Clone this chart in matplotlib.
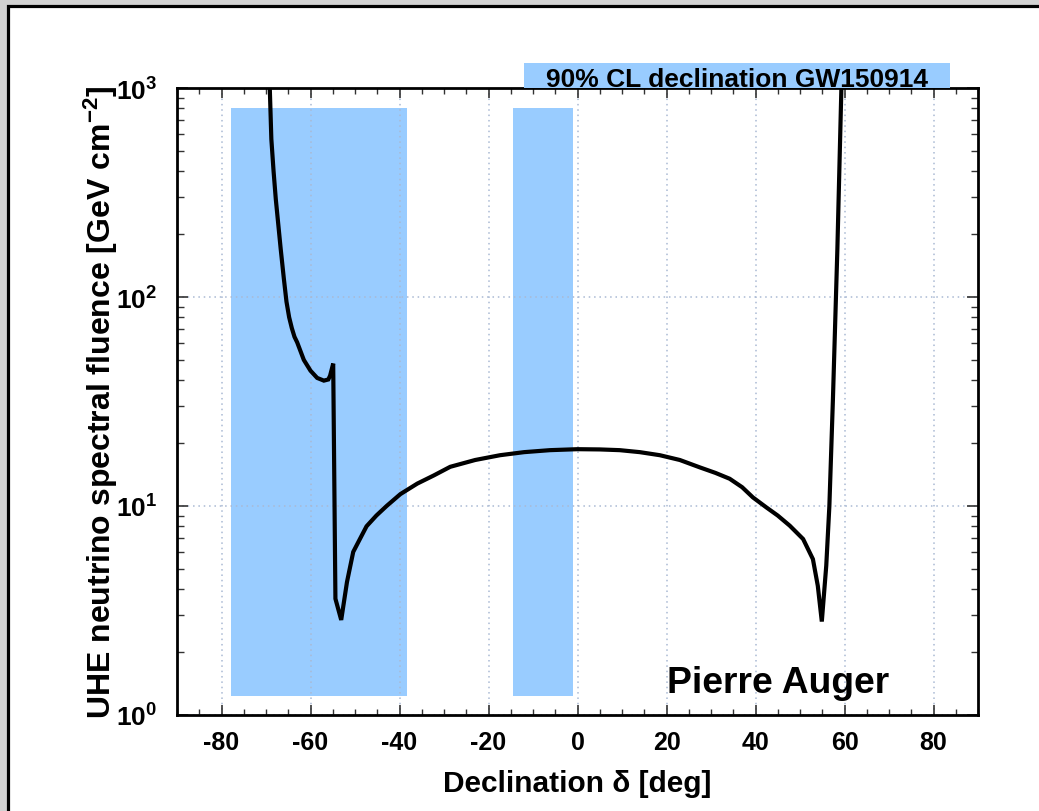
import matplotlib
matplotlib.use("Agg")
import matplotlib.pyplot as plt
from matplotlib.patches import Rectangle
from matplotlib.ticker import MultipleLocator, LogLocator, NullFormatter

plt.rcParams["font.family"] = ["Liberation Sans", "DejaVu Sans"]
plt.rcParams["font.weight"] = "bold"
plt.rcParams["mathtext.fontset"] = "custom"
plt.rcParams["mathtext.rm"] = "Liberation Sans:bold"
plt.rcParams["mathtext.bf"] = "Liberation Sans:bold"
plt.rcParams["mathtext.it"] = "Liberation Sans:bold:italic"
plt.rcParams["axes.unicode_minus"] = False

# Auger upper limit on UHE neutrino spectral fluence vs. declination
declination = [-69.15, -68.8, -68.3, -67.8, -66.7, -66.0, -65.4, -64.8, -64.2,
               -63.6, -63.0, -61.5, -60.0, -58.5, -57.0, -56.0, -55.6, -54.9,
               -54.4, -53.1, -51.8, -50.4, -48.9, -47.4, -45.2, -42.9, -39.8,
               -36.0, -32.3, -28.6, -23.0, -17.4, -12.0, -6.2, 0.0, 5.0, 9.5,
               14.0, 18.5, 23.0, 27.5, 31.0, 34.2, 37.0, 39.4, 42.4, 45.0,
               47.7, 50.7, 52.9, 54.0, 54.9, 55.9, 56.6, 57.4, 58.4, 59.3]
fluence = [1000, 570, 400, 294, 170, 123, 95, 80, 71,
           64.5, 60.7, 50, 44.4, 41, 39.8, 40.3, 42, 48,
           3.6, 2.85, 4.33, 6.03, 6.95, 8.0, 9.0, 10.0, 11.4,
           12.8, 14.0, 15.4, 16.6, 17.5, 18.1, 18.5, 18.7, 18.65, 18.5,
           18.1, 17.5, 16.6, 15.3, 14.4, 13.5, 12.3, 11.0, 9.86, 9.0,
           8.05, 6.95, 5.57, 4.15, 2.8, 5.18, 10.0, 32.5, 170, 1000]

# 90% CL declination bands of GW150914
band_lo = [-77.9, -14.6]
band_hi = [-38.4, -1.0]
band_bottom = 1.23
band_top = 800

band_color = "#99ccff"

fig = plt.figure(figsize=(10.39, 8.12), dpi=100)
fig.patch.set_facecolor("#d2d2d2")
frame_left = 7.5 / 1039
frame_top = 1 - 6.5 / 812
frame = Rectangle((frame_left, -0.2), 1.2, frame_top + 0.2,
                  transform=fig.transFigure, facecolor="white",
                  edgecolor="black", linewidth=2.3, zorder=-10)
fig.patches.append(frame)

ax = fig.add_axes([177 / 1039, 1 - 716 / 812, 801 / 1039, 627 / 812])
ax.set_yscale("log")
ax.set_xlim(-90, 90)
ax.set_ylim(1, 1000)

for lo, hi in zip(band_lo, band_hi):
    ax.bar(lo, band_top - band_bottom, width=hi - lo, bottom=band_bottom,
           align="edge", color=band_color, linewidth=0, zorder=1)

ax.set_axisbelow("line")
ax.grid(True, which="major", linestyle=(0, (1, 2.5)), color="#a9b9d3",
        linewidth=1.1)

ax.plot(declination, fluence, color="black", linewidth=3.0, zorder=3,
        solid_joinstyle="miter")

ax.xaxis.set_major_locator(MultipleLocator(20))
ax.xaxis.set_minor_locator(MultipleLocator(5))
ax.yaxis.set_major_locator(LogLocator(base=10, numticks=10))
ax.yaxis.set_minor_locator(LogLocator(base=10, subs=range(2, 10), numticks=10))
ax.yaxis.set_minor_formatter(NullFormatter())

ax.tick_params(which="both", direction="in", top=True, right=True,
               color="#333333")
ax.tick_params(axis="x", which="major", length=7, width=1.2, pad=11,
               labelsize=18)
ax.tick_params(axis="x", which="minor", length=4, width=1.0)
ax.tick_params(axis="y", which="major", length=8, width=1.2, pad=14,
               labelsize=19)
ax.tick_params(axis="y", which="minor", length=5, width=1.0)

for spine in ax.spines.values():
    spine.set_linewidth(2.0)

ax.set_xlabel("Declination δ [deg]", fontsize=21.5, fontweight="bold")
ax.xaxis.label.set_va("baseline")
ax.xaxis.set_label_coords(0.5, (716 - 792) / 627)

ax.set_ylabel(r"UHE neutrino spectral fluence [GeV cm$^{-2}$]", fontsize=23,
              fontweight="bold")
ax.yaxis.label.set_va("baseline")
ax.yaxis.set_label_coords((111 - 177) / 801, 0.5)

# legend-like box above the frame
ax.add_patch(Rectangle(((524 - 177) / 801, 1.0), (950 - 524) / 801,
                       (716 - 64) / 627 - 1.0, transform=ax.transAxes,
                       facecolor=band_color, edgecolor="none",
                       clip_on=False, zorder=4))
ax.text((737 - 177) / 801, (716 - 87) / 627, "90% CL declination GW150914",
        transform=ax.transAxes, ha="center", va="baseline", fontsize=19,
        fontweight="bold", zorder=5, clip_on=False)

ax.text(20.1, 1.29, "Pierre Auger", ha="left", va="baseline", fontsize=26.8,
        fontweight="bold", zorder=5)

fig.savefig("out.png", dpi=100, facecolor=fig.get_facecolor())
